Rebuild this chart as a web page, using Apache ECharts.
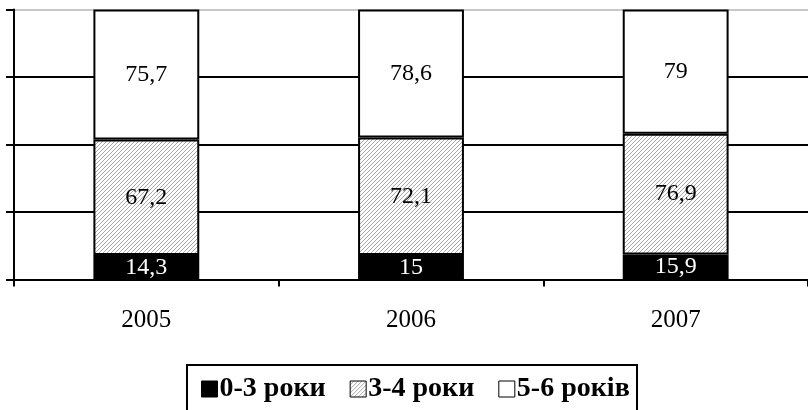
<!DOCTYPE html>
<html>
<head>
<meta charset="utf-8">
<script src="https://cdn.jsdelivr.net/npm/echarts@6/dist/echarts.min.js"></script>
<style>
html,body{margin:0;padding:0;background:#fff;}
#chart{width:808px;height:410px;}
</style>
</head>
<body>
<div id="chart"></div>
<script>
const categories = ['2005', '2006', '2007'];
const seriesNames = ['0-3 роки', '3-4 роки', '5-6 років'];
const age03 = [14.3, 15, 15.9];
const age34 = [67.2, 72.1, 76.9];
const age56 = [75.7, 78.6, 79];
const yTicks = [0, 25, 50, 75, 100];

const raw = [age03, age34, age56];
const totals = categories.map((c, i) => age03[i] + age34[i] + age56[i]);
const pct = raw.map(arr => arr.map((v, i) => v / totals[i] * 100));

function hatch() {
  const c = document.createElement('canvas');
  c.width = 4; c.height = 4;
  const g = c.getContext('2d');
  g.fillStyle = '#fff';
  g.fillRect(0, 0, 4, 4);
  g.strokeStyle = '#a8a8a8';
  g.lineWidth = 1;
  g.beginPath();
  g.moveTo(-1, 5); g.lineTo(5, -1);
  g.moveTo(-1, 1); g.lineTo(1, -1);
  g.moveTo(3, 5); g.lineTo(5, 3);
  g.stroke();
  return c;
}
const hatchFill = { image: hatch(), repeat: 'repeat' };

const FONT = 'Liberation Serif';
const fills = ['#000', hatchFill, '#fff'];
const labelColors = ['#fff', '#000', '#000'];

const chart = echarts.init(document.getElementById('chart'), null, { renderer: 'canvas' });

const series = seriesNames.map((name, k) => ({
  name: name,
  type: 'bar',
  stack: 'total',
  barWidth: '40%',
  data: pct[k],
  itemStyle: { color: fills[k], borderColor: '#000', borderWidth: 2 },
  label: {
    show: true,
    position: 'inside',
    fontFamily: FONT,
    fontSize: 24,
    color: labelColors[k],
    textBorderWidth: 0,
    formatter: p => String(raw[k][p.dataIndex]).replace('.', ',')
  },
  emphasis: { disabled: true },
  animation: false
}));

chart.setOption({
  animation: false,
  backgroundColor: '#fff',
  grid: { left: 14, top: 9.5, width: 798, height: 270, containLabel: false },
  xAxis: {
    type: 'category',
    data: categories,
    axisLine: { lineStyle: { color: '#000', width: 2 } },
    axisTick: { show: true, length: 7, lineStyle: { color: '#000', width: 2 } },
    axisLabel: { fontFamily: FONT, fontSize: 25, color: '#000', margin: 28 }
  },
  yAxis: {
    type: 'value',
    min: yTicks[0],
    max: yTicks[yTicks.length - 1],
    interval: yTicks[1] - yTicks[0],
    axisLine: { show: true, lineStyle: { color: '#000', width: 2 } },
    axisTick: { show: true, length: 8, lineStyle: { color: '#000', width: 2 } },
    axisLabel: { show: false },
    splitLine: { show: true, lineStyle: { color: ['#000', '#000', '#000', '#000', '#c8c8c8'], width: 2 } }
  },
  legend: {
    left: 196,
    top: 370,
    itemWidth: 16,
    itemHeight: 16,
    itemGap: 24,
    icon: 'rect',
    textStyle: { fontFamily: FONT, fontSize: 28, fontWeight: 'bold', color: '#000', padding: [0, 0, 0, -3] },
    data: seriesNames.map((n, k) => ({ name: n, itemStyle: { color: fills[k], borderColor: '#000', borderWidth: 1 } }))
  },
  graphic: [{
    type: 'rect',
    shape: { x: 187, y: 365, width: 450, height: 60 },
    style: { fill: 'none', stroke: '#000', lineWidth: 2 },
    silent: true
  }],
  series: series
});
</script>
</body>
</html>
